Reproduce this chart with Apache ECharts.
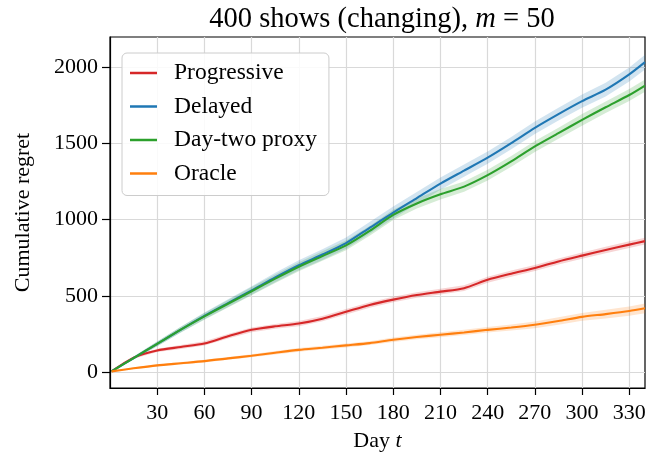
<!DOCTYPE html>
<html><head><meta charset="utf-8">
<script src="https://cdn.jsdelivr.net/npm/echarts@6/dist/echarts.min.js"></script>
<style>html,body{margin:0;padding:0;background:#fff}#c{width:649px;height:458px}</style>
</head><body><div id="c"></div>
<script>
// ---- data ----
const days = [1,15,30,45,60,75,90,105,120,135,150,165,180,195,210,225,240,255,270,285,300,315,330,340];
const progressive = [5,95,142,165,188,235,277,300,318,350,395,440,475,505,527,550,605,645,682,725,763,800,835,858];
const delayed     = [5,92,185,278,368,452,535,620,700,770,845,945,1045,1140,1235,1320,1405,1500,1600,1690,1775,1850,1950,2030];
const dayTwo      = [5,92,185,278,365,448,530,612,690,760,830,925,1030,1105,1165,1215,1290,1380,1478,1565,1652,1735,1815,1877];
const oracle      = [5,25,44,58,72,90,107,127,146,160,175,190,212,230,245,260,277,292,310,335,362,380,400,418];
// half-widths of the shaded bands
const progressiveBand = [0,8,11,13,14,15,16,16,17,17,18,18,18,18,19,19,19,20,20,20,21,21,22,22];
const delayedBand     = [0,10,15,19,22,25,28,31,33,35,37,38,39,39,40,40,40,40,41,42,44,45,46,48];
const dayTwoBand      = [0,10,15,19,22,25,27,28,30,31,32,32,33,33,34,34,35,35,36,36,38,38,39,40];
const oracleBand      = [0,5,7,8,9,9,10,11,12,12,13,13,14,15,16,17,18,20,22,24,26,28,30,32];
const xTicks = [30,60,90,120,150,180,210,240,270,300,330];
const yTicks = [0,500,1000,1500,2000];
const names = ['Progressive','Delayed','Day-two proxy','Oracle'];
const colors = ['#d62728','#1f77b4','#2ca02c','#ff7f0e'];
const bandColors = ['rgba(214,39,40,0.2)','rgba(31,119,180,0.2)','rgba(44,160,44,0.2)','rgba(255,127,14,0.2)'];

const values = [progressive, delayed, dayTwo, oracle];
const bands = [progressiveBand, delayedBand, dayTwoBand, oracleBand];
const FONT = '"Liberation Serif","Times New Roman",serif';

const series = [];
values.forEach((vals, k) => {
  const b = bands[k];
  series.push({
    type:'custom', name:'band'+k, data:[[days[0], vals[0]]], silent:true, z:1, clip:true,
    renderItem:(params, api) => {
      const pts = [];
      for (let i = 0; i < days.length; i++) pts.push(api.coord([days[i], vals[i] + b[i]]));
      for (let i = days.length - 1; i >= 0; i--) pts.push(api.coord([days[i], vals[i] - b[i]]));
      return {type:'polygon', shape:{points:pts}, style:{fill:bandColors[k]}};
    }
  });
});
values.forEach((vals, k) => {
  series.push({type:'line', name:names[k], data:days.map((d,i)=>[d, vals[i]]), symbol:'none', smooth:0.25,
    lineStyle:{color:colors[k], width:2.1}, itemStyle:{color:colors[k]}, z:2});
});

const chart = echarts.init(document.getElementById('c'), null, {renderer:'canvas'});
chart.setOption({
  animation:false,
  backgroundColor:'#fff',
  title:{
    text:'400 shows (changing), {i|m} = 50',
    left:377, textAlign:'center', top:0,
    textStyle:{fontFamily:FONT, fontSize:28.5, fontWeight:'normal', color:'#000',
      rich:{i:{fontFamily:FONT, fontSize:28.5, fontStyle:'italic', color:'#000'}}}
  },
  grid:{left:110, right:4, top:37, bottom:70, show:true, borderColor:'#000', borderWidth:1.2, backgroundColor:'transparent'},
  legend:{
    data:names, orient:'vertical', left:122, top:53,
    icon:'rect', itemWidth:27, itemHeight:2.5, itemGap:9.5,
    padding:[8,12,10,8],
    backgroundColor:'rgba(255,255,255,0.85)', borderColor:'#cccccc', borderWidth:1, borderRadius:5,
    textStyle:{fontFamily:FONT, fontSize:23.5, color:'#000', lineHeight:24, padding:[0,0,0,12]}
  },
  xAxis:{
    type:'value', min:0, max:340,
    name:'Day {i|t}', nameLocation:'middle', nameGap:42,
    nameTextStyle:{fontFamily:FONT, fontSize:22, color:'#000', rich:{i:{fontFamily:FONT, fontSize:22, fontStyle:'italic', color:'#000'}}},
    axisLine:{show:true, onZero:false, lineStyle:{color:'#000', width:1.2}},
    axisTick:{show:true, length:7, customValues:xTicks, lineStyle:{color:'#000', width:1.2}},
    axisLabel:{customValues:xTicks, margin:14, fontFamily:FONT, fontSize:22, color:'#000', formatter:v=>String(v)},
    splitLine:{show:true, lineStyle:{color:'#d9d9d9', width:1.2}}
  },
  yAxis:{
    type:'value', min:-104, max:2195,
    name:'Cumulative regret', nameLocation:'middle', nameGap:76,
    nameTextStyle:{fontFamily:FONT, fontSize:22, color:'#000'},
    axisLine:{show:true, onZero:false, lineStyle:{color:'#000', width:1.2}},
    axisTick:{show:true, length:8, customValues:yTicks, lineStyle:{color:'#000', width:1.2}},
    axisLabel:{customValues:yTicks, margin:12, fontFamily:FONT, fontSize:22, color:'#000', formatter:v=>String(v)},
    splitLine:{show:true, lineStyle:{color:'#d9d9d9', width:1.2}}
  },
  series:series
});
</script></body></html>
